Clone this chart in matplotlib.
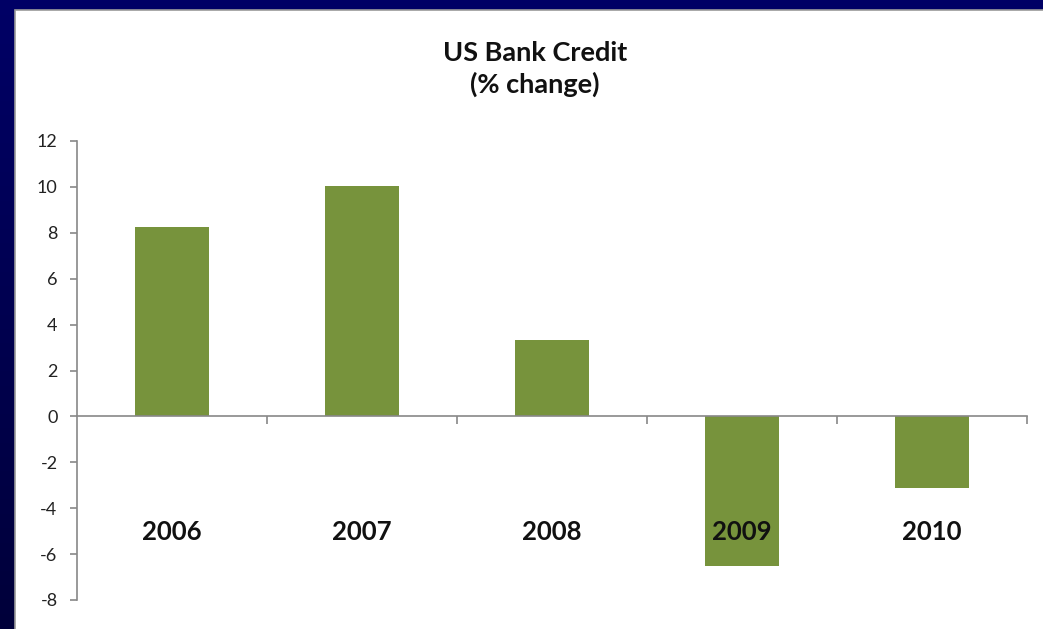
import matplotlib.pyplot as plt
import numpy as np
from matplotlib.patches import Rectangle

years = ["2006", "2007", "2008", "2009", "2010"]
credit_change = [8.25, 10.05, 3.35, -6.5, -3.1]
y_ticks = [-8, -6, -4, -2, 0, 2, 4, 6, 8, 10, 12]

plt.rcParams["font.family"] = ["Lato", "DejaVu Sans"]

fig = plt.figure(figsize=(10.43, 6.29), dpi=100)
fig.patch.set_facecolor("#000060")

# navy slide border, darker toward the bottom on the left
bg = fig.add_axes([0, 0, 1, 1])
grad = np.linspace(0, 1, 256).reshape(-1, 1)
bg.imshow(grad, extent=[0, 1, 0, 1], aspect="auto",
          cmap=plt.matplotlib.colors.LinearSegmentedColormap.from_list(
              "navy", ["#00003a", "#000066"]), origin="lower")
bg.set_xlim(0, 1)
bg.set_ylim(0, 1)
bg.axis("off")
bg.add_patch(Rectangle((15 / 1043, -0.1), 1.2, 1.1 - 10 / 629, facecolor="white",
                       edgecolor="#9a9a9a", linewidth=1.2))

ax = fig.add_axes([77 / 1043, 29 / 629, 950 / 1043, 459 / 629])
ax.set_facecolor("none")

x = np.arange(len(years))
ax.bar(x, credit_change, width=0.39, color="#77933c")

ax.set_xlim(-0.5, len(years) - 0.5)
ax.set_ylim(-8, 12)
ax.set_yticks(y_ticks)
ax.set_yticklabels([str(t) for t in y_ticks], fontsize=13, color="#222222")
ax.set_xticks(np.arange(len(years)) + 0.5)
ax.set_xticklabels([])

for side in ["top", "right"]:
    ax.spines[side].set_visible(False)
ax.spines["bottom"].set_position(("data", 0))
ax.spines["left"].set_color("#888888")
ax.spines["bottom"].set_color("#888888")
ax.spines["left"].set_linewidth(1.2)
ax.spines["bottom"].set_linewidth(1.2)
ax.tick_params(axis="y", length=5, width=1.2, color="#888888", pad=9)
ax.tick_params(axis="x", length=6, width=1.2, color="#888888")

for xi, yr in zip(x, years):
    ax.text(xi, -5.05, yr, ha="center", va="center", fontsize=18.5,
            fontweight="bold", color="#111111")

fig.text(535 / 1043, 1 - 69 / 629, "US Bank Credit\n(% change)", ha="center",
         va="center", fontsize=19.5, fontweight="bold", color="#111111",
         linespacing=1.35)

fig.savefig("out.png", dpi=100, facecolor=fig.get_facecolor())
